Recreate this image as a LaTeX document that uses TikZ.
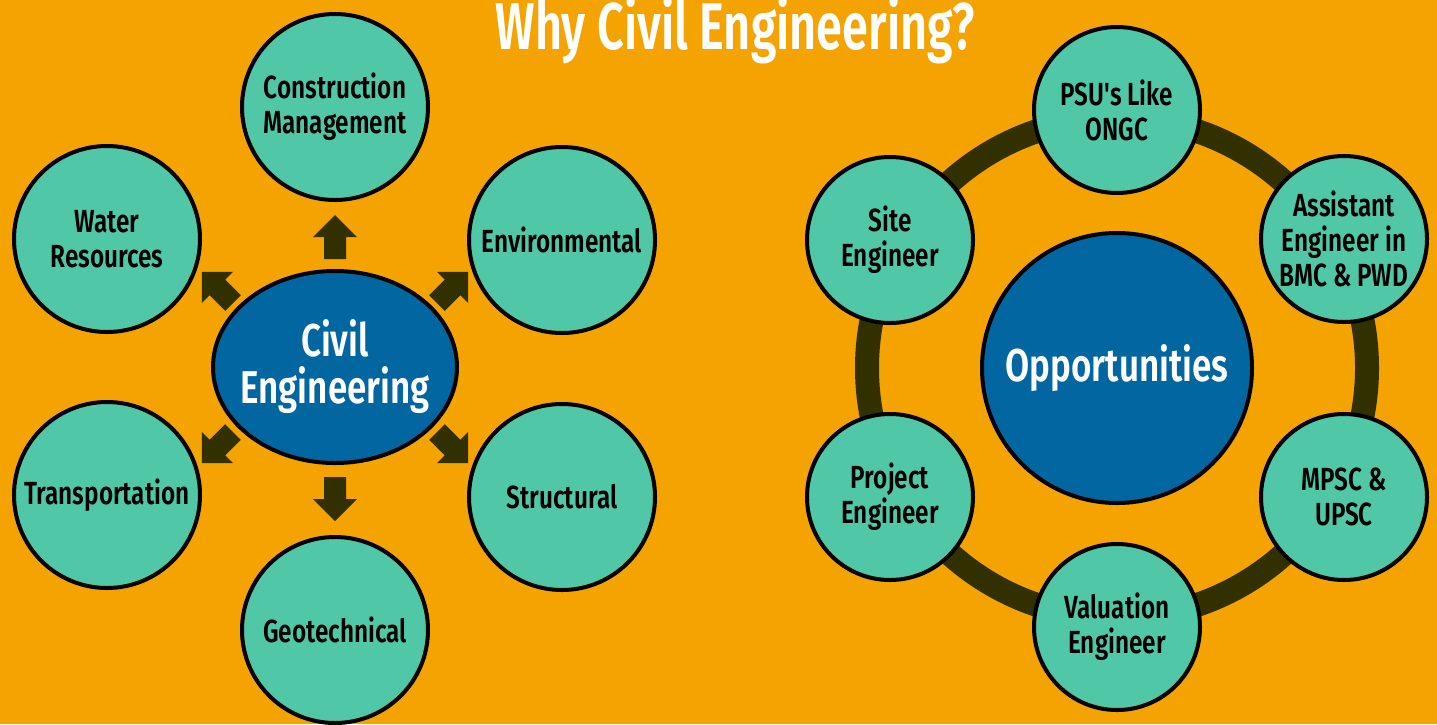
\documentclass[tikz,border=0pt]{standalone}
\usepackage{fontspec}
\newfontfamily\dinfont{Fira Sans SemiBold}[FakeStretch=0.76]
\newfontfamily\dintitle{Fira Sans SemiBold}[FakeStretch=0.71]
\usetikzlibrary{shapes.geometric}
\definecolor{bg}{RGB}{244,163,0}
\definecolor{tealc}{RGB}{80,200,168}
\definecolor{deepblue}{RGB}{2,102,160}
\definecolor{arrowc}{RGB}{51,48,0}
\begin{document}
\begin{tikzpicture}[x=1pt,y=-1pt,
  bubble/.style={circle,draw=black,line width=4pt,fill=tealc,inner sep=0pt,
    minimum size=186pt,align=center,text=black,
    font=\dinfont\fontsize{32}{35}\selectfont},
  smallbubble/.style={bubble,minimum size=166pt},
  hub/.style={draw=black,line width=4pt,fill=deepblue,inner sep=0pt},
  hubtext/.style={align=center,text=white,inner sep=0pt,
    font=\dinfont\fontsize{46}{47}\selectfont},
  ringline/.style={draw=arrowc,line width=24pt},
  titletext/.style={text=white,font=\dintitle\fontsize{66}{70}\selectfont,inner sep=0pt,anchor=base},
  fatarrow/.pic={\fill[arrowc] (-11,0) -- (-11,-22) -- (-22,-22) -- (0,-44) -- (22,-22) -- (11,-22) -- (11,0) -- cycle;}
]
\useasboundingbox (0,0) rectangle (1437,724);
\fill[bg] (0,0) rectangle (1437,724);

% title
\node[titletext] (title) at (735,49) {Why Civil Engineering?};

% left cluster
\node[hub,ellipse,minimum width=244pt,minimum height=192pt] (civil) at (335,367) {};
\node[hubtext] (civiltext) at (civil) {Civil\\Engineering};
\node[bubble] (cm) at (335,107) {Construction\\Management};
\node[bubble] (water) at (107,239) {Water\\Resources};
\node[bubble] (env) at (562,240) {Environmental};
\node[bubble] (trans) at (107,495) {Transportation};
\node[bubble] (struct) at (562,497) {Structural};
\node[bubble] (geo) at (335,630) {Geotechnical};

\pic at (335,259) {fatarrow};
\pic[rotate=180] at (335,477) {fatarrow};
\pic[rotate=45] at (233,303) {fatarrow};
\pic[rotate=-45] at (437,303) {fatarrow};
\pic[rotate=135] at (233,432) {fatarrow};
\pic[rotate=-135] at (437,432) {fatarrow};

% right cluster
\coordinate (ringc) at (1117,368);
\draw[ringline] (ringc) circle (250pt);
\node[hub,circle,minimum size=270pt] (opp) at (ringc) {};
\node[hubtext] (opptext) at (opp) {Opportunities};
\node[smallbubble] (psu) at (1117,110) {PSU's Like\\ONGC};
\node[smallbubble] (site) at (890,240) {Site\\Engineer};
\node[smallbubble] (asst) at (1344,239) {Assistant\\Engineer in\\BMC \& PWD};
\node[smallbubble] (mpsc) at (1344,497) {MPSC \&\\UPSC};
\node[smallbubble] (val) at (1117,627) {Valuation\\Engineer};
\node[smallbubble] (proj) at (890,497) {Project\\Engineer};
\end{tikzpicture}
\end{document}
